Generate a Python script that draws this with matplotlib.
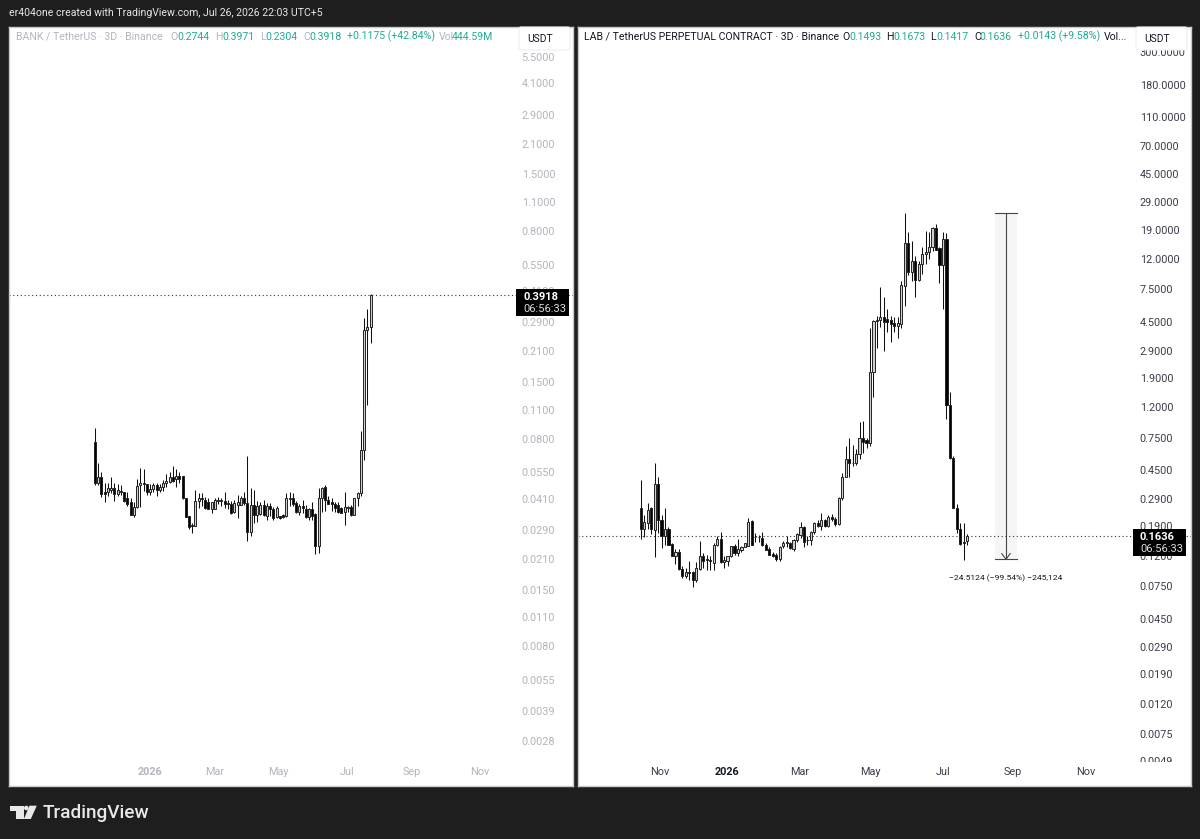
import numpy as np
import matplotlib
matplotlib.use('Agg')
import matplotlib.pyplot as plt
from matplotlib.patches import Rectangle, Polygon, Circle, FancyBboxPatch

plt.rcParams['font.family'] = ['Roboto', 'DejaVu Sans']

# BANK / TetherUS 3D candles
bank_open = [.0773, .0487, .0520, .0444, .0444, .0450, .0463, .0432, .0448, .0444,
             .0412, .0395, .0343, .0375, .0478, .0491, .0485, .0441, .0455, .0478,
             .0450, .0470, .0487, .0495, .0525, .0508, .0530, .0530, .0412, .0340,
             .0308, .0305, .0402, .0412, .0405, .0397, .0368, .0368, .0404, .0402,
             .0400, .0392, .0386, .0356, .0383, .0383, .0412, .0390, .0285, .0383,
             .0343, .0345, .0383, .0340, .0378, .0368, .0336, .0338, .0343, .0340,
             .0410, .0412, .0390, .0356, .0378, .0365, .0335, .0368, .0345, .0243,
             .0412, .0470, .0405, .0397, .0386, .0383, .0369, .0354, .0372, .0375,
             .0343, .0412, .0436, .0708, .2666, .2744]
bank_high = [.0896, .0607, .0550, .0487, .0487, .0525, .0487, .0482, .0480, .0444,
             .0441, .0415, .0397, .0510, .0574, .0570, .0485, .0482, .0487, .0487,
             .0482, .0505, .0540, .0553, .0590, .0570, .0553, .0530, .0412, .0340,
             .0312, .0452, .0436, .0436, .0420, .0412, .0397, .0415, .0420, .0412,
             .0441, .0405, .0400, .0405, .0428, .0425, .0444, .0660, .0460, .0452,
             .0400, .0397, .0405, .0390, .0390, .0375, .0378, .0340, .0345, .0436,
             .0444, .0436, .0400, .0386, .0405, .0383, .0372, .0397, .0350, .0460,
             .0470, .0478, .0425, .0412, .0397, .0397, .0375, .0444, .0378, .0383,
             .0412, .0441, .0871, .3040, .3363, .3971]
bank_low = [.0478, .0480, .0420, .0395, .0425, .0438, .0400, .0425, .0430, .0395,
            .0380, .0343, .0335, .0370, .0375, .0448, .0430, .0428, .0441, .0425,
            .0444, .0448, .0465, .0490, .0495, .0470, .0490, .0410, .0335, .0295,
            .0280, .0302, .0369, .0380, .0366, .0366, .0350, .0366, .0386, .0380,
            .0372, .0366, .0346, .0350, .0332, .0383, .0383, .0258, .0270, .0314,
            .0318, .0343, .0338, .0325, .0340, .0325, .0332, .0328, .0333, .0336,
            .0378, .0378, .0350, .0343, .0350, .0330, .0325, .0325, .0222, .0225,
            .0356, .0360, .0386, .0360, .0355, .0352, .0352, .0308, .0355, .0340,
            .0343, .0380, .0425, .0631, .1160, .2304]
bank_close = [.0487, .0525, .0432, .0432, .0463, .0463, .0432, .0452, .0441, .0400,
              .0386, .0343, .0375, .0472, .0491, .0482, .0441, .0455, .0478, .0450,
              .0470, .0487, .0500, .0525, .0502, .0530, .0508, .0412, .0335, .0300,
              .0302, .0402, .0412, .0409, .0369, .0366, .0397, .0404, .0400, .0406,
              .0386, .0386, .0352, .0390, .0397, .0412, .0390, .0285, .0383, .0343,
              .0378, .0383, .0343, .0378, .0366, .0330, .0372, .0330, .0336, .0415,
              .0415, .0386, .0354, .0378, .0370, .0335, .0365, .0338, .0243, .0412,
              .0460, .0405, .0386, .0386, .0372, .0356, .0352, .0375, .0375, .0343,
              .0412, .0436, .0705, .2666, .2744, .3918]

# LAB / TetherUS perpetual 3D candles
lab_open = [.250, .180, .200, .250, .178, .364, .208, .162, .181, .143,
            .120, .126, .097, .087, .0925, .0935, .0815, .0975, .119, .1135,
            .112, .1075, .142, .155, .109, .110, .1185, .139, .124, .131,
            .138, .140, .206, .161, .160, .157, .1415, .133, .123, .121,
            .113, .140, .148, .145, .132, .153, .165, .188, .152, .152,
            .172, .198, .190, .210, .190, .217, .211, .196, .295, .409,
            .542, .505, .503, .58, .745, .723, .687, 2.08, 4.6, 4.65,
            4.85, 4.75, 4.7, 4.45, 4.25, 4.4, 7.9, 15.4, 9.9, 11.7,
            8.7, 11.2, 13.0, 13.4, 14.6, 19.6, 14.2, 10.9, 16.5, 1.25,
            .55, .252, .18, .149, .1493]
lab_high = [.389, .226, .271, .256, .503, .405, .226, .253, .187, .146,
            .133, .133, .102, .0995, .1105, .0940, .109, .151, .125, .121,
            .120, .146, .163, .174, .120, .120, .140, .143, .155, .140,
            .145, .216, .208, .171, .165, .172, .145, .138, .127, .124,
            .139, .151, .163, .149, .155, .170, .201, .189, .163, .175,
            .203, .207, .233, .211, .226, .229, .217, .300, .435, .660,
            .745, .670, .625, .96, .973, .745, 4.1, 4.7, 5.0, 7.8,
            6.7, 5.5, 5.0, 4.85, 4.85, 8.6, 24.5, 18.2, 15.9, 12.7,
            11.6, 14.6, 18.7, 18.4, 19.9, 20.6, 14.4, 18.2, 17.9, 1.53,
            .56, .268, .198, .200, .1673]
lab_low = [.155, .161, .180, .168, .118, .171, .135, .142, .142, .119,
           .1045, .096, .085, .085, .0815, .0735, .080, .0965, .0995, .0965,
           .0965, .0965, .139, .1075, .0995, .102, .1165, .121, .120, .127,
           .137, .140, .142, .149, .149, .140, .130, .121, .117, .111,
           .111, .134, .138, .133, .129, .149, .158, .136, .141, .142,
           .168, .186, .179, .188, .186, .206, .191, .194, .285, .409,
           .409, .480, .49, .535, .588, .635, .66, 1.41, 3.0, 4.2,
           2.9, 3.9, 3.3, 3.9, 3.5, 4.1, 5.8, 9.4, 8.6, 6.7,
           8.6, 9.5, 11.2, 12.0, 13.6, 13.9, 8.3, 5.5, 1.0, .54,
           .25, .17, .141, .112, .1417]
lab_close = [.180, .203, .243, .180, .364, .208, .162, .181, .142, .119,
             .126, .097, .087, .0925, .0915, .0815, .0985, .119, .110, .1115,
             .110, .142, .155, .1085, .1115, .1185, .139, .125, .132, .138,
             .145, .203, .142, .160, .161, .1415, .131, .121, .119, .113,
             .138, .145, .146, .134, .153, .167, .188, .149, .153, .172,
             .198, .190, .210, .190, .217, .211, .196, .295, .409, .542,
             .503, .507, .58, .745, .70, .687, 2.08, 4.6, 4.65, 4.85,
             4.55, 4.5, 4.4, 4.25, 4.45, 8.0, 15.5, 9.9, 11.7, 8.7,
             11.2, 13.0, 13.4, 14.6, 19.6, 13.9, 11.0, 16.5, 1.25, .55,
             .252, .18, .143, .1455, .1636]

# axis labels, bar index positions as on the time scale
bank_yticks = [5.5, 4.1, 2.9, 2.1, 1.5, 1.1, 0.8, 0.55, 0.41, 0.29, 0.21, 0.15, 0.11,
               0.08, 0.055, 0.041, 0.029, 0.021, 0.015, 0.011, 0.008, 0.0055, 0.0039, 0.0028]
lab_yticks = [300, 180, 110, 70, 45, 29, 19, 12, 7.5, 4.5, 2.9, 1.9, 1.2, 0.75, 0.45,
              0.29, 0.19, 0.12, 0.075, 0.045, 0.029, 0.019, 0.012, 0.0075, 0.0049]
bank_xticks = [17, 37, 56.7, 77.7, 97.7, 118.7]
bank_xlabels = ['2026', 'Mar', 'May', 'Jul', 'Sep', 'Nov']
lab_xticks = [5.6, 24.8, 45.9, 66, 87, 107.2, 128.2]
lab_xlabels = ['Nov', '2026', 'Mar', 'May', 'Jul', 'Sep', 'Nov']

# measure tool on the LAB chart
measure_high = 24.63
measure_low = 0.1133
measure_left = 102.0
measure_right = 108.3

W, H = 1200, 839
BG = '#1e1e1e'
GREEN = '#22ab94'
GREY = '#b2b5be'
DARK = '#131722'

fig = plt.figure(figsize=(W / 100, H / 100), dpi=100, facecolor=BG)


def px_axes(x0, y0, x1, y1):
    return fig.add_axes([x0 / W, 1 - y1 / H, (x1 - x0) / W, (y1 - y0) / H])


def px_text(x, y, s, **kw):
    kw.setdefault('va', 'center')
    return fig.text(x / W, 1 - y / H, s, **kw)


def candles(ax, o, h, l, c):
    o, h, l, c = map(np.array, (o, h, l, c))
    x = np.arange(len(o))
    up = c >= o
    ax.vlines(x, l, h, color='#111111', lw=0.75, zorder=3)
    ax.bar(x, np.abs(c - o), bottom=np.minimum(o, c), width=0.62,
           color=np.where(up, '#cfcfcf', 'black'), edgecolor='#222222', lw=0.7, zorder=4)


def setup(ax, xlim, ylim, yticks, xticks, xlabels, color, strong):
    ax.set_yscale('log')
    ax.set_xlim(xlim)
    ax.set_ylim(ylim)
    ax.minorticks_off()
    ax.yaxis.tick_right()
    ax.set_yticks(yticks)
    ax.set_yticklabels(['%.4f' % v for v in yticks])
    ax.set_xticks(xticks)
    ax.set_xticklabels(xlabels)
    ax.tick_params(axis='y', length=0, pad=-37, labelsize=7.8, labelcolor=color)
    ax.tick_params(axis='x', length=0, pad=-14, labelsize=7.8, labelcolor=color)
    for lab in ax.get_xticklabels():
        if lab.get_text() == '2026':
            lab.set_fontweight('bold')
            lab.set_color(strong)
    for s in ax.spines.values():
        s.set_color('#c8cad0')
        s.set_linewidth(1)
        s.set_zorder(3)
    # time scale strip covers price labels that run off the scale
    ax.add_patch(Rectangle((0, 0), 1, 24 / 759, transform=ax.transAxes, fc='white', ec='none', zorder=2.8))
    ax.xaxis.set_zorder(3)


# left chart
ax1 = px_axes(9, 27, 573, 786)
setup(ax1, (-26.5, 147.4), (10 ** -2.770, 10 ** 0.8846), bank_yticks, bank_xticks, bank_xlabels, GREY, GREY)
candles(ax1, bank_open, bank_high, bank_low, bank_close)
ax1.axhline(bank_close[-1], color='#333333', lw=0.8, ls=(0, (1, 2.4)), zorder=2)

# right chart
ax2 = px_axes(578, 27, 1191, 786)
setup(ax2, (-18.05, 158.4), (10 ** -2.476, 10 ** 2.646), lab_yticks, lab_xticks, lab_xlabels, '#3a3e4a', DARK)
ax2.fill_between([measure_left, measure_right], measure_low, measure_high, color='#f5f5f5', lw=0, zorder=1)
candles(ax2, lab_open, lab_high, lab_low, lab_close)
ax2.axhline(lab_close[-1], color='#333333', lw=0.8, ls=(0, (1, 2.4)), zorder=2)
mid = (measure_left + measure_right) / 2
ax2.plot([mid, mid], [measure_low, measure_high], color='#444444', lw=0.8, zorder=3)
ax2.plot([measure_left, measure_right], [measure_high, measure_high], color='#444444', lw=0.8, zorder=3)
ax2.plot([measure_left, measure_right], [measure_low, measure_low], color='#444444', lw=0.8, zorder=3)
ax2.plot([mid - 1.2, mid, mid + 1.2], [measure_low * 1.09, measure_low, measure_low * 1.09], color='#444444', lw=0.8, zorder=3)
px_text(1006, 578, '\u221224.5124 (\u221299.54%) \u2212245,124', ha='center', fontsize=6.1, color=DARK, zorder=10)

# price tags and currency buttons sit above the axes
overlay = fig.add_axes([0, 0, 1, 1], facecolor='none')
overlay.set_xlim(0, W)
overlay.set_ylim(H, 0)
overlay.axis('off')
for x0, x1 in [(519, 570), (1136, 1187)]:
    overlay.add_patch(FancyBboxPatch((x0 + 2, 29), x1 - x0 - 4, 19, boxstyle='round,pad=2', fc='white', ec='#eceef2', lw=0.8))
    overlay.text(x0 + 8, 39, 'USDT', fontsize=7.4, color=DARK, va='center')
for x0, y0, txt in [(516, 289, '0.3918'), (1133, 529, '0.1636')]:
    overlay.add_patch(Rectangle((x0, y0), 52.5, 27, fc='black', ec='none'))
    overlay.text(x0 + 7, y0 + 8, txt, fontsize=8, color='white', fontweight='bold', va='center')
    overlay.text(x0 + 7, y0 + 20.5, '06:56:33', fontsize=8, color='#dddddd', va='center')

# TradingView logo
overlay.add_patch(Polygon([(10.3, 805.7), (23.7, 805.7), (23.7, 819), (16, 819), (16, 810.5), (10.3, 810.5)], fc='#e8e8e8', ec='none'))
overlay.add_patch(Circle((26.3, 808), 2.3, fc='#e8e8e8', ec='none'))
overlay.add_patch(Polygon([(29.5, 805.7), (36.8, 805.7), (30.8, 819), (23.9, 819)], fc='#e8e8e8', ec='none'))
px_text(43, 813, 'TradingView', fontsize=13.7, color='#e8e8e8', fontweight='medium')

# header and legends
px_text(9, 13, 'er404one created with TradingView.com, Jul 26, 2026 22:03 UTC+5', fontsize=7.6, color='#e6e6e6')

bank_legend = [(16, 'BANK / TetherUS \u00b7 3D \u00b7 Binance', GREY), (170, 'O', GREY), (177, '0.2744', GREEN),
               (215, 'H', GREY), (222, '0.3971', GREEN), (260, 'L', GREY), (265.5, '0.2304', GREEN),
               (303.5, 'C', GREY), (309, '0.3918', GREEN), (347, '+0.1175 (+42.84%)', GREEN),
               (439, 'Vol', GREY), (452, '444.59M', GREEN)]
lab_legend = [(584, 'LAB / TetherUS PERPETUAL CONTRACT \u00b7 3D \u00b7 Binance', DARK), (842, 'O', DARK), (849, '0.1493', GREEN),
              (886.5, 'H', DARK), (893, '0.1673', GREEN), (930.6, 'L', DARK), (936, '0.1417', GREEN),
              (974, 'C', DARK), (979.6, '0.1636', GREEN), (1018, '+0.0143 (+9.58%)', GREEN), (1104, 'Vol...', DARK)]
for x, s, col in bank_legend + lab_legend:
    px_text(x, 36.5, s, fontsize=7.6, color=col)

fig.savefig('out.png', dpi=100, facecolor=BG)
